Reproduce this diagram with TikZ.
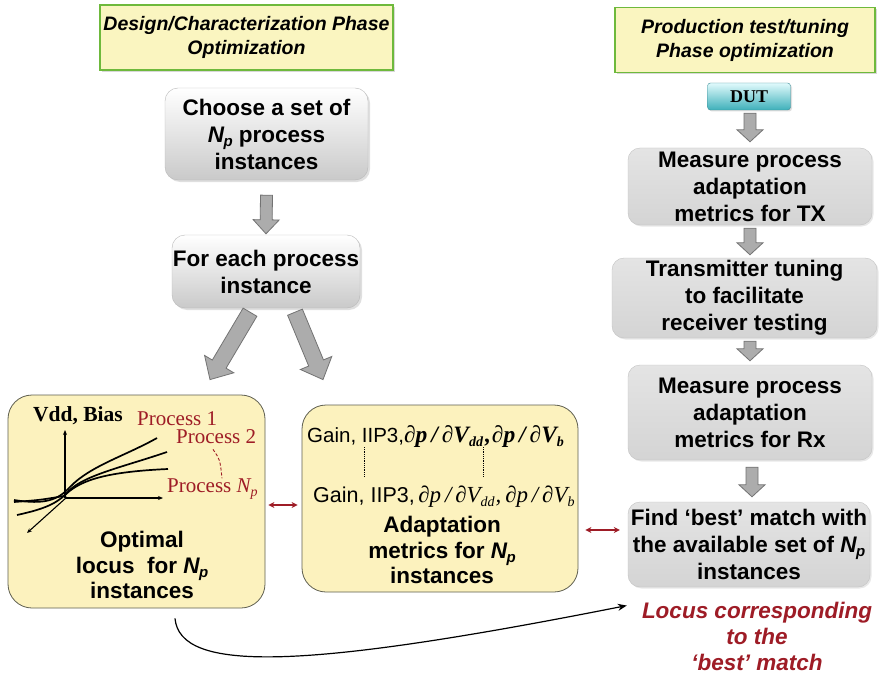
\documentclass[tikz,border=0pt]{standalone}
\usepackage{fontspec}
\setmainfont{Liberation Sans}
\newfontfamily\seriffont{Liberation Serif}
\usetikzlibrary{calc,shadows,arrows.meta}

\definecolor{hdrfill}{RGB}{250,245,192}
\definecolor{hdredge}{RGB}{110,185,60}
\definecolor{yfill}{RGB}{252,242,190}
\definecolor{yedge}{RGB}{95,95,80}
\definecolor{gfilltop}{RGB}{228,228,228}
\definecolor{gfillbot}{RGB}{212,212,212}
\definecolor{gedge}{RGB}{195,195,195}
\definecolor{arrfill}{RGB}{172,172,172}
\definecolor{arredge}{RGB}{115,115,115}
\definecolor{darkred}{RGB}{158,28,38}
\definecolor{dutlight}{RGB}{225,250,252}
\definecolor{dutdark}{RGB}{62,176,186}
\definecolor{dutedge}{RGB}{60,140,150}

% N with subscript p, in the current bold font
\newcommand\Np{\textit{N\kern-0.5pt\raisebox{-4pt}{\fontsize{15}{15}\selectfont p}}}
% lowered small text for subscripts in the formulas
\newcommand\lowtxt[1]{\raisebox{-4pt}{\fontsize{14}{14}\selectfont #1}}

% block arrow: start, end, shaft half width, head half width, head length
\newcommand\blockarrow[5]{%
  \coordinate (ba-s) at #1;
  \coordinate (ba-e) at #2;
  \coordinate (ba-n) at ($(ba-e)!#5!(ba-s)$);
  \draw[blockarr] ($(ba-s)!#3!90:(ba-e)$) -- ($(ba-n)!#3!90:(ba-e)$)
    -- ($(ba-n)!#4!90:(ba-e)$) -- (ba-e) -- ($(ba-n)!#4!-90:(ba-e)$)
    -- ($(ba-n)!#3!-90:(ba-e)$) -- ($(ba-s)!#3!-90:(ba-e)$) -- cycle;}

\begin{document}
\begin{tikzpicture}[x=1pt,y=-1pt,
  hdrbox/.style={draw=hdredge, line width=1.6pt, fill=hdrfill, align=center,
    font=\bfseries\itshape\fontsize{19.5}{24}\selectfont,
    drop shadow={shadow xshift=2pt, shadow yshift=-2pt, opacity=0.3}},
  whitebox/.style={draw=gray!55, rounded corners=13pt, top color=white,
    middle color=white!96!gray, bottom color=gray!42, align=center,
    font=\bfseries\fontsize{22.5}{27}\selectfont, inner sep=0pt,
    drop shadow={shadow xshift=2pt, shadow yshift=-2pt, opacity=0.25}},
  greybox/.style={draw=gedge, rounded corners=12pt, top color=gfilltop,
    bottom color=gfillbot, align=center,
    font=\bfseries\fontsize{22.5}{27}\selectfont, inner sep=0pt,
    drop shadow={shadow xshift=1.5pt, shadow yshift=-1.5pt, opacity=0.18}},
  yelbox/.style={draw=yedge, line width=0.8pt, rounded corners=24pt, fill=yfill},
  boldtxt/.style={align=center, font=\bfseries\fontsize{22.5}{25.5}\selectfont, inner sep=0pt},
  proclbl/.style={text=darkred, font=\seriffont\fontsize{21}{21}\selectfont, inner sep=0pt},
  blockarr/.style={draw=arredge, fill=arrfill, line width=0.8pt, line join=miter},
  pairarrow/.style={draw=darkred, line width=1.1pt, {Stealth[length=6pt,width=6pt]}-{Stealth[length=6pt,width=6pt]}},
  axisarrow/.style={line width=1.1pt, -{Stealth[length=5pt,width=4pt]}},
  locusline/.style={line width=1.7pt}]

\useasboundingbox (0,0) rectangle (885,679);
\fill[white] (0,0) rectangle (885,679);

% phase headers
\node[hdrbox, minimum width=293pt, minimum height=65pt] (hdrL) at (246.5,37.5)
  {Design/Characterization Phase\\Optimization};
\node[hdrbox, minimum width=260pt, minimum height=65pt] (hdrR) at (745,40)
  {Production test/tuning\\Phase optimization};

% design / characterization flow
\node[whitebox, minimum width=203pt, minimum height=92pt] (choose) at (266.5,134)
  {Choose a set of\\\Np{} process\\instances};
\node[whitebox, minimum width=188pt, minimum height=73pt] (each) at (266,271.5)
  {For each process\\instance};

\node[yelbox, minimum width=257pt, minimum height=213pt] (opt) at (136.5,501.5) {};
\node[yelbox, minimum width=276pt, minimum height=187pt] (adapt) at (440,498.5) {};

\blockarrow{([yshift=-15pt]choose.south)}{([yshift=1pt]each.north)}{6pt}{13pt}{14pt}
\blockarrow{([xshift=-16pt,yshift=-4pt]each.south)}{([xshift=73.5pt,yshift=15pt]opt.north)}{8pt}{17pt}{18pt}
\blockarrow{([xshift=29pt,yshift=-4pt]each.south)}{([xshift=-117pt,yshift=25pt]adapt.north)}{8pt}{17pt}{18pt}

% optimal locus sketch
\coordinate (orig) at (65,498);
\draw[axisarrow] (orig) -- (65,430);
\draw[axisarrow] (orig) -- (163,498);
\draw[axisarrow] (67,497) -- (27,533);
\draw[locusline] (14,500) .. controls (45,505) and (58,500) .. (70,487)
  .. controls (90,466) and (125,456) .. (157,438);
\draw[locusline] (17,515) .. controls (40,510) and (55,505) .. (66,494)
  .. controls (80,476) and (120,468) .. (167,452);
\draw[locusline] (14,502) .. controls (40,500) .. (64,496)
  .. controls (78,482) and (100,472) .. (168,469);
\node[inner sep=0pt, anchor=base west, font=\seriffont\bfseries\fontsize{21.5}{21.5}\selectfont]
  (vddlbl) at (33,421) {Vdd, Bias};
\node[proclbl, anchor=base west] (p1) at (137,425) {Process 1};
\node[proclbl, anchor=base west] (p2) at (176,443) {Process 2};
\node[proclbl, anchor=base west] (pn) at (167,492) {Process \textit{N\lowtxt{p}}};
\draw[darkred, densely dashed, line width=0.9pt] (p2.south west) ++(37,6)
  .. controls +(7,10) .. +(9,29);
\node[boldtxt] (opttxt) at (142,565) {Optimal\\locus\ \ for \Np\\instances};

% adaptation metrics
\node[inner sep=0pt, anchor=base west, font=\fontsize{20.5}{20.5}\selectfont] (m1) at (307,442)
  {Gain, IIP3,{\seriffont\bfseries\itshape\fontsize{23.5}{23.5}\selectfont ∂p\,/\,∂V\lowtxt{dd}\kern2pt,\kern1pt∂p\,/\,∂V\lowtxt{b}}};
\node[inner sep=0pt, anchor=base west, font=\fontsize{21.5}{21.5}\selectfont] (m2) at (313,502)
  {Gain, IIP3,\,{\seriffont\itshape\fontsize{23}{23}\selectfont ∂p\,/\,∂V\lowtxt{dd}\kern1pt,\,∂p\,/\,∂V\lowtxt{b}}};
\draw[densely dotted, line width=0.8pt] (364,447) -- (364,477);
\draw[densely dotted, line width=0.8pt] (483,447) -- (483,477);
\node[boldtxt] (adtxt) at (442,550) {Adaptation\\metrics for \Np\\instances};

% production test flow
\node[draw=dutedge, rounded corners=3pt, top color=dutlight, bottom color=dutdark,
  minimum width=83pt, minimum height=27pt, inner sep=0pt,
  font=\seriffont\bfseries\fontsize{18}{18}\selectfont,
  drop shadow={shadow xshift=1.5pt, shadow yshift=-1.5pt, opacity=0.25}] (dut) at (749,96.5) {DUT};
\node[greybox, minimum width=244pt, minimum height=77pt] (mtx) at (750,186.5)
  {Measure process\\adaptation\\metrics for TX};
\node[greybox, minimum width=265pt, minimum height=80pt] (tune) at (744.5,298)
  {Transmitter tuning\\to facilitate\\receiver testing};
\node[greybox, minimum width=244pt, minimum height=95pt] (mrx) at (750,412.5)
  {Measure process\\adaptation\\metrics for Rx};
\node[greybox, minimum width=242pt, minimum height=85pt] (find) at (749,544.5)
  {Find ‘best’ match with\\the available set of \Np\\instances};
\node[inner sep=0pt, align=center, text=darkred,
  font=\bfseries\itshape\fontsize{22.5}{26}\selectfont] (locus) at (757,636)
  {Locus corresponding\\to the\\‘best’ match};

\blockarrow{([xshift=1pt,yshift=-3pt]dut.south)}{([yshift=6pt]mtx.north)}{6pt}{13pt}{12pt}
\blockarrow{([yshift=-3pt]mtx.south)}{([xshift=5.5pt,yshift=3pt]tune.north)}{6pt}{13pt}{12pt}
\blockarrow{([xshift=5.5pt,yshift=-3pt]tune.south)}{([yshift=4pt]mrx.north)}{6pt}{13pt}{12pt}
\blockarrow{([xshift=2pt,yshift=-7pt]mrx.south)}{([xshift=3pt,yshift=5pt]find.north)}{6pt}{13pt}{12pt}

% links between the two phases
\draw[pairarrow] ([xshift=3pt,yshift=-3.5pt]opt.east) -- ([xshift=-4pt,yshift=-6.5pt]adapt.west);
\draw[pairarrow] ([xshift=7pt,yshift=-31.5pt]adapt.east) -- ([xshift=-8pt,yshift=14.5pt]find.west);
\draw[line width=1.2pt, -{Stealth[length=9pt,width=7pt]}]
  ([xshift=38.5pt,yshift=-10pt]opt.south) .. controls +(5,54) and +(-328,65)
  .. ([xshift=-15pt,yshift=-4pt]locus.north west);
\end{tikzpicture}
\end{document}
